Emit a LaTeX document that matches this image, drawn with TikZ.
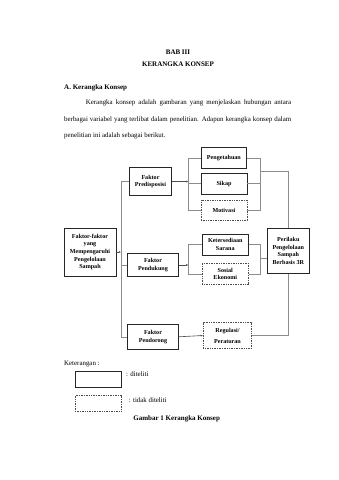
\documentclass[tikz,border=0pt]{standalone}
\usepackage{fontspec}
\setmainfont{Liberation Serif}
\usetikzlibrary{arrows.meta}
\begin{document}
\begin{tikzpicture}[x=1pt,y=-1pt,
  box/.style={draw=black!85,line width=0.7pt,align=center,inner sep=0.5pt,font=\fontsize{6.1}{7.6}\selectfont\bfseries},
  dbox/.style={box,draw=black!70,dash pattern=on 1pt off 0.7pt},
  ln/.style={draw=black!45,line width=0.6pt},
  arr/.style={ln,-{Latex[length=2.2pt,width=2pt]},draw=black!70},
  body/.style={font=\fontsize{6.9}{8}\selectfont,inner sep=0pt},
  head/.style={font=\fontsize{7}{8}\selectfont\bfseries,inner sep=0pt}
]
\useasboundingbox (0,0) rectangle (339,480);
\fill[white] (0,0) rectangle (339,480);
% header text
\node[head] (t1) at (178,52.3) {BAB III};
\node[head] (t2) at (178,64.3) {KERANGKA KONSEP};
\node[head,anchor=west] (t3) at (64,88.3) {A. Kerangka Konsep};
\node[body,anchor=west] (p1) at (85.7,102.7) {\makebox[205.3pt][s]{Kerangka konsep adalah gambaran yang menjelaskan hubungan antara}};
\node[body,anchor=west] (p2) at (64,120) {\makebox[227pt][s]{berbagai variabel yang terlibat dalam penelitian. Adapun kerangka konsep dalam}};
\node[body,anchor=west] (p3) at (64,135.5) {penelitian ini adalah sebagai berikut.};

% boxes
\node[box,minimum width=52pt,minimum height=48pt] (L) at (90,252) {Faktor-faktor\\yang\\Mempengaruhi\\Pengelolaan\\Sampah};
\node[box,minimum width=42.4pt,minimum height=27.6pt] (Pre) at (150.5,181.5) {Faktor\\Predisposisi};
\node[box,minimum width=50.6pt,minimum height=23.4pt] (Pen) at (153,265) {Faktor\\Pendukung};
\node[box,minimum width=50.6pt,minimum height=25pt] (Pdr) at (153,336.8) {Faktor\\Pendorong};
\node[box,minimum width=45.7pt,minimum height=21pt] (Peng) at (223.9,157.8) {Pengetahuan};
\node[box,minimum width=46pt,minimum height=20.7pt] (Sik) at (224,183.7) {Sikap};
\node[dbox,minimum width=46pt,minimum height=20pt] (Mot) at (224,210) {Motivasi};
\node[box,minimum width=46pt,minimum height=20.7pt] (Ket) at (225.3,244.7) {Ketersediaan\\Sarana};
\node[dbox,minimum width=46pt,minimum height=21pt] (Sos) at (225.3,273.8) {Sosial\\Ekonomi};
\node[dbox,minimum width=48.4pt,minimum height=25.6pt,font=\fontsize{6.1}{11}\selectfont\bfseries] (Reg) at (227.5,335.5) {Regulasi/\\Peraturan};
\node[box,minimum width=42pt,minimum height=45pt] (Per) at (288.3,250.8) {Perilaku\\Pengelolaan\\Sampah\\Berbasis 3R};

% coordinates
\coordinate (b1) at (121,252);
\coordinate (b1t) at (121,181.5);
\coordinate (b1b) at (121,336.8);
\coordinate (g1) at (188.3,181.5);
\coordinate (g2) at (188.3,265);
\coordinate (r1) at (260.7,171.7);
\coordinate (r2) at (260.7,258.3);

% left bus
\draw[arr] (L.east) -- (b1);
\draw[ln] (b1t) -- (b1b);
\draw[ln] (b1t) -- (Pre.west);
\draw[ln] (b1 |- Pen.west) -- (Pen.west);
\draw[ln] (b1b) -- (Pdr.west);

% group 1
\draw[arr] (Pre.east) -- (g1);
\draw[ln] (g1 |- Peng.west) -- (g1 |- Mot.west);
\draw[ln] (g1 |- Peng.west) -- (Peng.west);
\draw[ln] (g1 |- Sik.west) -- (Sik.west);
\draw[ln] (g1 |- Mot.west) -- (Mot.west);
\draw[ln] (Peng.east) -- (r1 |- Peng.east) -- (r1 |- Mot.east) -- (Mot.east);
\draw[ln] (Sik.east) -- (r1 |- Sik.east);
\draw[ln] (r1) -| (Per.north);

% group 2
\draw[arr] (Pen.east) -- (g2);
\draw[ln] (g2 |- Ket.west) -- (g2 |- Sos.west);
\draw[ln] (g2 |- Ket.west) -- (Ket.west);
\draw[ln] (g2 |- Sos.west) -- (Sos.west);
\draw[ln] (Ket.east) -- (r2 |- Ket.east) -- (r2 |- Sos.east) -- (Sos.east);
\draw[ln] (r2) -- (Per.west |- r2);

% group 3
\draw[arr] (Pdr.east) -- (Reg.west);
\draw[ln] (Reg.east) -| (Per.south);

% legend
\node[body,anchor=west] (k) at (64,364.3) {Keterangan :};
\node[box,minimum width=46pt,minimum height=16.3pt] (lg1) at (98,379.2) {};
\node[body,anchor=west] (lt1) at (126,374.3) {: diteliti};
\node[dbox,minimum width=46.7pt,minimum height=15.3pt] (lg2) at (98.3,403.3) {};
\node[body,anchor=west] (lt2) at (128.7,400) {: tidak diteliti};
\node[head] (cap) at (176.7,418.7) {Gambar 1 Kerangka Konsep};
\end{tikzpicture}
\end{document}
